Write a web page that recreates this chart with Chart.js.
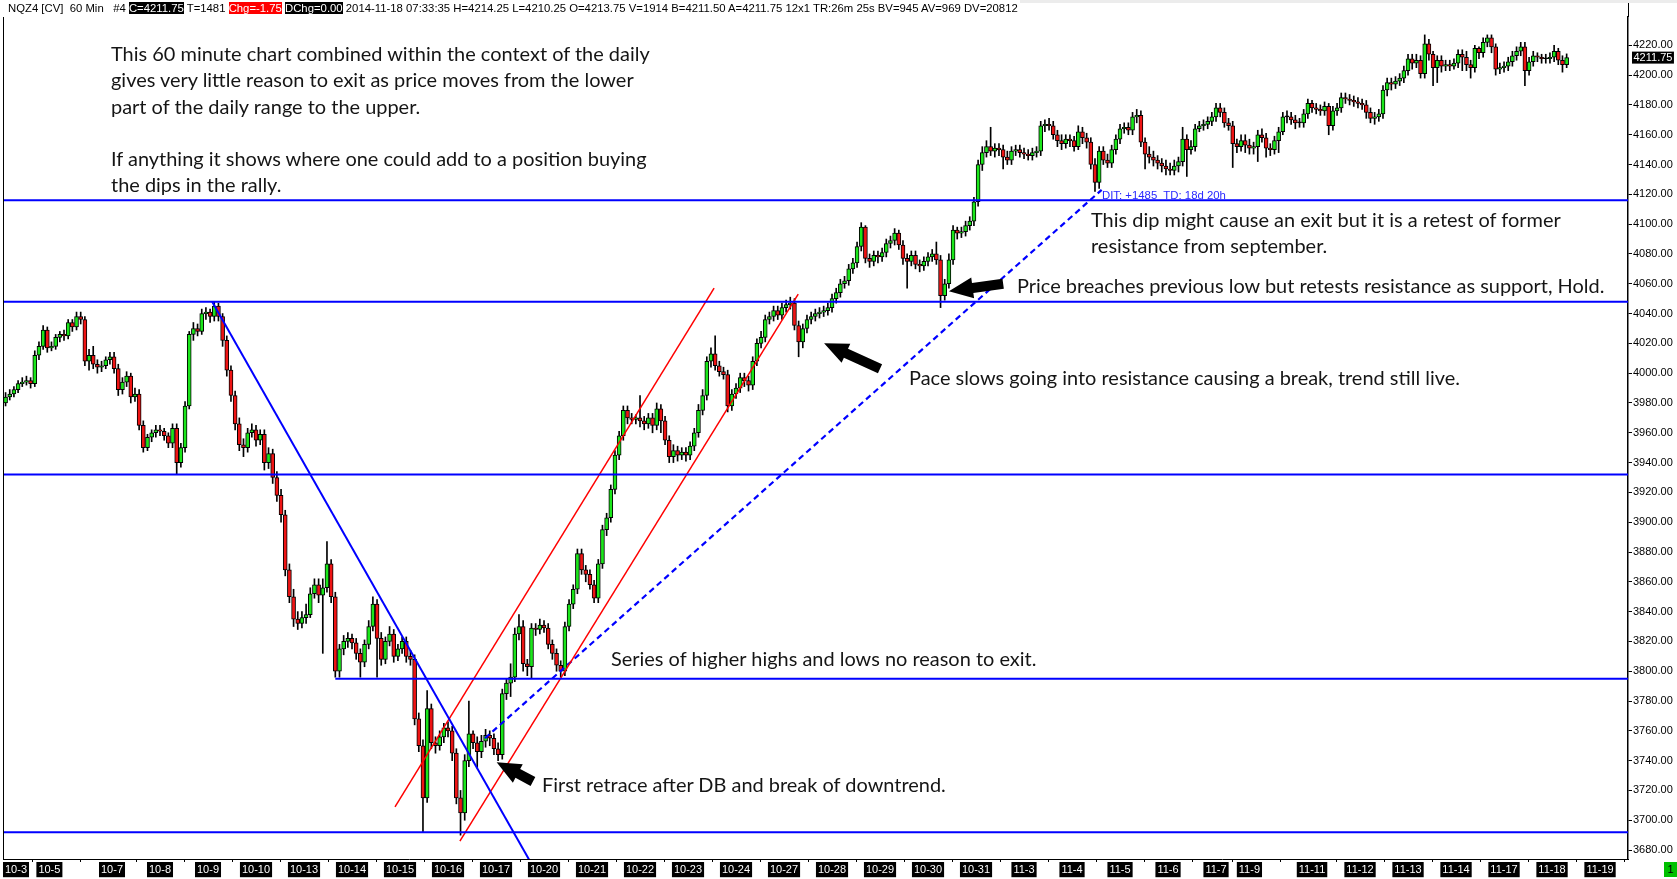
<!DOCTYPE html>
<html>
<head>
<meta charset="utf-8">
<title>NQZ4 60 Min</title>
<script src="https://cdn.jsdelivr.net/npm/chart.js"></script>
<style>
  html, body { margin: 0; padding: 0; background: #fff; overflow: hidden; }
  #wrap { position: relative; width: 1677px; height: 879px; }
  #topband { position: absolute; left: 1020px; top: 0; width: 657px; height: 3px; background: #ececec; }
  #hdr { position: absolute; left: 8px; top: 2px; font-family: 'Liberation Sans', Arial, sans-serif; font-size: 11.5px; line-height: 13px; white-space: pre; color: #000; }
  #hdr .bk { background: #000; color: #fff; }
  #hdr .rd { background: #f00; color: #fff; }
  .note { position: absolute; font-family: Lato, sans-serif; font-size: 19px; line-height: 26px; color: #151515; white-space: pre; }
  #dit { position: absolute; left: 1102px; top: 188px; font-family: 'Liberation Sans', Arial, sans-serif; font-size: 12px; line-height: 14px; color: #2a2aff; white-space: pre; }
  #one { position: absolute; left: 1664px; top: 862px; width: 13px; height: 15px; background: #00c000; color: #000; font: 11px 'Liberation Sans', Arial, sans-serif; line-height: 15px; text-align: center; }
</style>
</head>
<body>
<div id="wrap">
  <canvas id="chart"></canvas>
  <div id="topband"></div>
  <div id="hdr">NQZ4 [CV]  60 Min   #4 <span class="bk">C=4211.75</span> T=1481 <span class="rd">Chg=-1.75</span> <span class="bk">DChg=0.00</span> 2014-11-18 07:33:35 H=4214.25 L=4210.25 O=4213.75 V=1914 B=4211.50 A=4211.75 12x1 TR:26m 25s BV=945 AV=969 DV=20812</div>
  <div class="note" data-x="111" data-cy="53" data-w="534">This 60 minute chart combined within the context of the daily</div>
  <div class="note" data-x="111" data-cy="79.5" data-w="519">gives very little reason to exit as price moves from the lower</div>
  <div class="note" data-x="111" data-cy="106" data-w="308">part of the daily range to the upper.</div>
  <div class="note" data-x="111" data-cy="158" data-w="531">If anything it shows where one could add to a position buying</div>
  <div class="note" data-x="111" data-cy="184" data-w="185">the dips in the rally.</div>
  <div class="note" data-x="1091" data-cy="219" data-w="465">This dip might cause an exit but it is a retest of former</div>
  <div class="note" data-x="1091" data-cy="245.5" data-w="235">resistance from september.</div>
  <div class="note" data-x="1017" data-cy="285.5" data-w="583">Price breaches previous low but retests resistance as support, Hold.</div>
  <div class="note" data-x="909" data-cy="377.5" data-w="546">Pace slows going into resistance causing a break, trend still live.</div>
  <div class="note" data-x="611" data-cy="658" data-w="422">Series of higher highs and lows no reason to exit.</div>
  <div class="note" data-x="542" data-cy="784" data-w="398">First retrace after DB and break of downtrend.</div>
  <div id="dit">DIT: +1485  TD: 18d 20h</div>
  <div id="one">1</div>
</div>
<script>
// 2-hour candles, x = trading-hour index counted from 10-3 00:00
const startHour = -5;
const barHours = 2;
const firstOpen = 3980;

const closes = [
  3984,3986,3989,3993,3994,3995,3993,4012,4018,4029,
  4017,4018,4024,4026,4025,4034,4031,4038,4036,4008,
  4012,4006,4004,4005,4009,4011,4003,3989,3994,3998,
  3984,3986,3965,3950,3957,3960,3962,3961,3958,3953,
  3963,3940,3950,3978,4026,4030,4028,4040,4041,4038,
  4045,4038,4022,4002,3985,3966,3952,3950,3960,3962,
  3955,3959,3940,3946,3930,3918,3905,3868,3850,3835,
  3832,3836,3838,3852,3858,3851,3856,3872,3850,3800,
  3815,3820,3822,3819,3812,3806,3818,3830,3845,3822,
  3808,3820,3825,3810,3815,3820,3810,3808,3768,3750,
  3715,3775,3752,3750,3756,3762,3760,3745,3715,3705,
  3740,3758,3752,3746,3753,3757,3755,3748,3744,3785,
  3792,3796,3825,3830,3805,3803,3829,3828,3831,3829,
  3818,3812,3804,3800,3830,3845,3855,3879,3868,3865,
  3858,3849,3872,3895,3903,3922,3945,3958,3975,3970,
  3969,3970,3968,3966,3970,3965,3976,3968,3955,3944,
  3948,3945,3947,3945,3951,3960,3975,3985,4008,4013,
  4005,4001,3999,3978,3986,3990,3997,3995,3992,4008,
  4020,4024,4036,4038,4042,4039,4044,4046,4047,4032,
  4021,4030,4036,4038,4040,4041,4042,4044,4050,4054,
  4060,4062,4070,4074,4085,4098,4077,4075,4079,4078,
  4081,4087,4089,4094,4086,4077,4075,4079,4073,4072,
  4075,4078,4080,4076,4052,4060,4076,4096,4094,4095,
  4099,4102,4115,4140,4148,4152,4149,4151,4150,4145,
  4143,4149,4150,4148,4147,4146,4148,4149,4166,4167,
  4166,4160,4156,4154,4157,4156,4152,4162,4158,4155,
  4140,4128,4149,4143,4141,4150,4157,4164,4165,4163,
  4172,4173,4155,4147,4145,4143,4141,4139,4137,4136,
  4139,4142,4157,4150,4152,4164,4166,4167,4169,4172,
  4178,4175,4168,4166,4154,4152,4156,4153,4151,4152,
  4160,4158,4151,4150,4156,4162,4172,4172,4170,4168,
  4168,4174,4181,4178,4177,4176,4179,4166,4176,4178,
  4185,4184,4183,4182,4181,4180,4175,4171,4172,4174,
  4190,4195,4194,4196,4198,4203,4211,4208,4210,4201,
  4221,4214,4205,4210,4206,4207,4206,4208,4214,4212,
  4207,4205,4218,4215,4222,4225,4219,4204,4205,4206,
  4209,4213,4216,4219,4203,4209,4213,4212,4211,4211,
  4212,4216,4210,4207,4211.75
];

const highs = [
  3987,3989,3991,3995,3997,3998,3997,4015,4021,4032,
  4031,4021,4026,4028,4029,4036,4036,4041,4041,4038,
  4016,4018,4009,4008,4011,4014,4014,4006,3997,4001,
  4000,3990,3989,3968,3959,3962,3965,3965,3963,3960,
  3966,3966,3953,3981,4028,4034,4033,4043,4044,4043,
  4048,4047,4040,4025,4005,3988,3970,3956,3963,3966,
  3965,3962,3962,3950,3949,3934,3922,3908,3872,3855,
  3840,3840,3845,3856,3862,3862,3862,3887,3875,3853,
  3818,3824,3826,3825,3822,3815,3821,3834,3850,3848,
  3826,3823,3830,3828,3818,3823,3823,3814,3811,3772,
  3754,3787,3778,3756,3760,3765,3766,3763,3748,3720,
  3744,3780,3760,3756,3757,3761,3760,3758,3752,3788,
  3795,3805,3829,3838,3834,3808,3832,3832,3835,3834,
  3832,3821,3815,3807,3833,3848,3858,3882,3882,3871,
  3868,3861,3875,3898,3906,3925,3948,3961,3978,3978,
  3973,3972,3985,3971,3973,3973,3980,3979,3971,3958,
  3952,3951,3950,3950,3954,3963,3979,3989,4011,4017,
  4025,4008,4004,4002,3989,3993,4000,4000,3998,4011,
  4023,4028,4039,4041,4045,4045,4047,4049,4051,4050,
  4035,4033,4039,4041,4043,4044,4045,4047,4053,4057,
  4063,4065,4073,4077,4088,4101,4099,4080,4082,4082,
  4084,4090,4092,4097,4096,4089,4080,4082,4082,4076,
  4078,4081,4083,4088,4079,4063,4080,4099,4098,4098,
  4102,4105,4118,4143,4152,4156,4165,4154,4154,4153,
  4149,4152,4153,4153,4151,4150,4151,4152,4169,4170,
  4171,4169,4163,4160,4160,4160,4159,4166,4165,4161,
  4158,4144,4152,4152,4147,4153,4160,4167,4168,4168,
  4175,4177,4176,4158,4152,4149,4146,4144,4143,4141,
  4143,4145,4165,4160,4156,4167,4169,4170,4172,4175,
  4181,4181,4178,4171,4169,4157,4160,4160,4157,4155,
  4163,4164,4161,4154,4159,4165,4175,4176,4175,4173,
  4171,4177,4184,4183,4181,4180,4182,4181,4179,4181,
  4188,4188,4187,4186,4185,4184,4183,4178,4175,4177,
  4193,4198,4198,4199,4201,4206,4214,4214,4214,4213,
  4227,4224,4216,4213,4213,4210,4210,4211,4217,4217,
  4216,4210,4220,4219,4225,4227,4227,4221,4208,4209,
  4212,4216,4219,4222,4222,4212,4216,4215,4214,4214,
  4215,4220,4218,4213,4214.25
];

const lows = [
  3978,3982,3984,3987,3991,3992,3990,3991,4009,4016,
  4014,4015,4016,4021,4022,4023,4028,4029,4033,4005,
  4002,4003,4000,4001,4003,4006,4000,3985,3986,3991,
  3980,3981,3962,3947,3948,3954,3957,3958,3955,3950,
  3950,3932,3937,3947,3976,4022,4025,4026,4036,4034,
  4035,4035,4018,3998,3981,3962,3948,3944,3947,3957,
  3951,3952,3935,3936,3926,3914,3900,3864,3846,3830,
  3828,3829,3832,3836,3849,3846,3812,3853,3846,3796,
  3796,3811,3816,3815,3808,3796,3803,3815,3827,3796,
  3804,3805,3817,3806,3807,3812,3806,3804,3764,3746,
  3692,3712,3748,3745,3747,3752,3756,3740,3711,3690,
  3700,3736,3748,3735,3742,3749,3750,3744,3740,3741,
  3781,3783,3793,3821,3800,3797,3795,3824,3825,3826,
  3815,3808,3800,3796,3797,3827,3842,3852,3865,3860,
  3855,3846,3846,3869,3891,3900,3919,3942,3955,3966,
  3966,3966,3964,3962,3963,3960,3962,3960,3952,3940,
  3940,3941,3942,3941,3942,3948,3957,3972,3982,4004,
  4002,3998,3996,3974,3975,3983,3987,3991,3988,3989,
  4005,4017,4021,4033,4035,4036,4036,4041,4043,4029,
  4011,4017,4027,4033,4035,4037,4038,4039,4041,4047,
  4051,4057,4059,4067,4071,4082,4074,4071,4072,4074,
  4075,4078,4084,4086,4083,4073,4057,4072,4070,4068,
  4069,4072,4075,4073,4044,4049,4057,4073,4090,4091,
  4092,4096,4099,4112,4136,4145,4146,4145,4146,4137,
  4140,4140,4146,4145,4144,4143,4143,4145,4146,4162,
  4163,4157,4152,4150,4151,4152,4149,4150,4154,4151,
  4137,4122,4124,4140,4138,4138,4147,4154,4161,4160,
  4160,4168,4152,4137,4141,4139,4137,4135,4133,4133,
  4133,4135,4139,4132,4147,4149,4162,4163,4164,4166,
  4169,4172,4165,4163,4138,4148,4149,4148,4147,4147,
  4142,4155,4145,4146,4147,4148,4160,4168,4167,4164,
  4165,4165,4171,4175,4174,4173,4173,4160,4163,4173,
  4175,4181,4180,4179,4178,4177,4171,4168,4167,4169,
  4171,4186,4190,4191,4193,4195,4200,4204,4205,4198,
  4198,4210,4193,4195,4202,4203,4203,4204,4205,4203,
  4203,4198,4202,4211,4212,4219,4215,4200,4201,4202,
  4203,4206,4210,4213,4193,4200,4206,4209,4208,4208,
  4208,4209,4207,4202,4205
];

// date ticks (trading-hour index) and their labels
const tickHours = [0,16,46,69,92,115,138,161,184,207,230,253,276,299,322,345,368,391,414,437,460,483,506,529,552,575,591,621,644,667,690,713,736,759];
const tickLabels = ['10-3','10-5','10-7','10-8','10-9','10-10','10-13','10-14','10-15','10-16','10-17','10-20','10-21','10-22','10-23','10-24','10-27','10-28','10-29','10-30','10-31','11-3','11-4','11-5','11-6','11-7','11-9','11-11','11-12','11-13','11-14','11-17','11-18','11-19'];
const priceTicks = [3680,3700,3720,3740,3760,3780,3800,3820,3840,3860,3880,3900,3920,3940,3960,3980,4000,4020,4040,4060,4080,4100,4120,4140,4160,4180,4200,4220];

// drawn levels and trend lines: [hour index, price]
const levels = [4116, 4048, 3932, 3795, 3692];
const levelFrom = [-7, -7, -7, 153, -7];
const downTrend = [[94, 4048], [246.5, 3672]];
const channelUpper = [[181.6, 3709], [334.5, 4057]];
const channelLower = [[212.7, 3686], [374.8, 4053]];
const supportTrend = [[224.7, 3755], [520.2, 4123]];
const arrows = [
  { tip: [230.3, 3739], tail: [247.7, 3726] },
  { tip: [387.2, 4020], tail: [414.0, 4003] },
  { tip: [447.0, 4055], tail: [473.0, 4060] }
];
const lastPrice = 4211.75;

const opens = closes.map((c, i) => i === 0 ? firstOpen : closes[i - 1]);
const hours = closes.map((c, i) => startHour + i * barHours);

const wickData = hours.map((h, i) => ({ x: h, y: [Math.min(lows[i], opens[i], closes[i]), Math.max(highs[i], opens[i], closes[i])] }));
const bodyData = hours.map((h, i) => ({ x: h, y: [opens[i], closes[i]] }));
const bodyColors = closes.map((c, i) => c > opens[i] ? '#1be61b' : (c < opens[i] ? '#ee1414' : '#000'));

function seg(pts, color, width, dash) {
  return {
    type: 'line',
    data: pts.map(p => ({ x: p[0], y: p[1] })),
    borderColor: color,
    borderWidth: width,
    borderDash: dash || [],
    pointRadius: 0,
    fill: false,
    order: 0
  };
}

const lineSets = levels.map((lv, i) => seg([[levelFrom[i], lv], [780, lv]], '#0000ff', 2));
lineSets.push(seg(downTrend, '#0000ff', 2));
lineSets.push(seg(channelUpper, '#ff0000', 1.5));
lineSets.push(seg(channelLower, '#ff0000', 1.5));
lineSets.push(seg(supportTrend, '#0000ff', 2.2, [6, 4]));

const extras = {
  id: 'extras',
  afterDatasetsDraw(chart) {
    const { ctx, chartArea } = chart;
    const x = chart.scales.x, y = chart.scales.y;
    ctx.save();
    ctx.fillStyle = '#000';
    arrows.forEach(a => {
      const tx = x.getPixelForValue(a.tip[0]), ty = y.getPixelForValue(a.tip[1]);
      const bx = x.getPixelForValue(a.tail[0]), by = y.getPixelForValue(a.tail[1]);
      const len = Math.hypot(bx - tx, by - ty);
      const hl = 24, hw = 10.5, sw = 5;
      ctx.save();
      ctx.translate(tx, ty);
      ctx.rotate(Math.atan2(by - ty, bx - tx));
      ctx.beginPath();
      ctx.moveTo(0, 0);
      ctx.lineTo(hl, -hw);
      ctx.lineTo(hl, -sw);
      ctx.lineTo(len, -sw);
      ctx.lineTo(len, sw);
      ctx.lineTo(hl, sw);
      ctx.lineTo(hl, hw);
      ctx.closePath();
      ctx.fill();
      ctx.restore();
    });
    ctx.strokeStyle = '#000';
    ctx.lineWidth = 1;
    ctx.beginPath();
    ctx.moveTo(chartArea.left + 0.5, chartArea.top);
    ctx.lineTo(chartArea.left + 0.5, chartArea.bottom);
    ctx.moveTo(chartArea.right + 0.5, 3);
    ctx.lineTo(chartArea.right + 0.5, chartArea.top);
    ctx.stroke();
    ctx.restore();
  },
  afterDraw(chart) {
    const { ctx } = chart;
    const y = chart.scales.y;
    const py = y.getPixelForValue(lastPrice);
    const label = lastPrice.toFixed(2);
    ctx.save();
    ctx.font = '11px "Liberation Sans", Arial, sans-serif';
    const w = ctx.measureText(label).width;
    ctx.fillStyle = '#000';
    ctx.fillRect(y.left + 4, py - 6, w + 3, 12);
    ctx.fillStyle = '#fff';
    ctx.textBaseline = 'middle';
    ctx.fillText(label, y.left + 5.5, py + 0.5);
    ctx.restore();
  }
};

const wrap = document.getElementById('wrap');
const chart = new Chart(document.getElementById('chart'), {
  type: 'bar',
  data: {
    datasets: [
      ...lineSets,
      { type: 'bar', data: bodyData, backgroundColor: bodyColors, borderColor: '#000', borderWidth: 1, borderSkipped: false, barThickness: 4, minBarLength: 1, grouped: false, order: 2 },
      { type: 'bar', data: wickData, backgroundColor: '#000', borderWidth: 0, barThickness: 1, grouped: false, order: 3 }
    ]
  },
  options: {
    responsive: true,
    maintainAspectRatio: false,
    animation: false,
    events: [],
    layout: { padding: { left: 3, top: 17, right: 0, bottom: 0 } },
    plugins: { legend: { display: false }, tooltip: { enabled: false } },
    scales: {
      x: {
        type: 'linear',
        min: -6.23,
        max: 772.4,
        bounds: 'data',
        offset: false,
        afterBuildTicks: s => { s.ticks = tickHours.map(v => ({ value: v })); },
        afterFit: s => { s.height = 20; },
        grid: { drawOnChartArea: false, tickLength: 3, color: '#000' },
        border: { color: '#000', width: 1 },
        ticks: {
          autoSkip: false,
          maxRotation: 0,
          color: '#fff',
          font: { family: 'Liberation Sans', size: 11 },
          padding: 1,
          showLabelBackdrop: true,
          backdropColor: '#000',
          backdropPadding: { top: 1, bottom: 1, left: 2, right: 2 },
          callback: (v, i) => tickLabels[i]
        }
      },
      y: {
        type: 'linear',
        position: 'right',
        min: 3674,
        max: 4239,
        bounds: 'data',
        afterBuildTicks: s => { s.ticks = priceTicks.map(v => ({ value: v })); },
        afterFit: s => { s.width = 49; },
        grid: { drawOnChartArea: false, tickLength: 4, color: '#000' },
        border: { color: '#000', width: 1.5 },
        ticks: {
          color: '#000',
          font: { family: 'Liberation Sans', size: 11 },
          padding: 1,
          callback: v => v.toFixed(2)
        }
      }
    }
  },
  plugins: [extras]
});
wrap.style.width = '1677px';

// fit the annotation text to the widths it has in the picture
const notes = Array.from(document.querySelectorAll('.note'));
let ratio = 0;
notes.forEach(n => { ratio += Number(n.dataset.w) / n.getBoundingClientRect().width; });
ratio /= notes.length;
notes.forEach(n => {
  n.style.fontSize = (19 * ratio).toFixed(2) + 'px';
  n.style.left = n.dataset.x + 'px';
  n.style.top = (Number(n.dataset.cy) - 13.5) + 'px';
});

const hdr = document.getElementById('hdr');
hdr.style.fontSize = (11.5 * 1010 / hdr.getBoundingClientRect().width).toFixed(2) + 'px';
const dit = document.getElementById('dit');
dit.style.fontSize = (12 * 124 / dit.getBoundingClientRect().width).toFixed(2) + 'px';
</script>
</body>
</html>
